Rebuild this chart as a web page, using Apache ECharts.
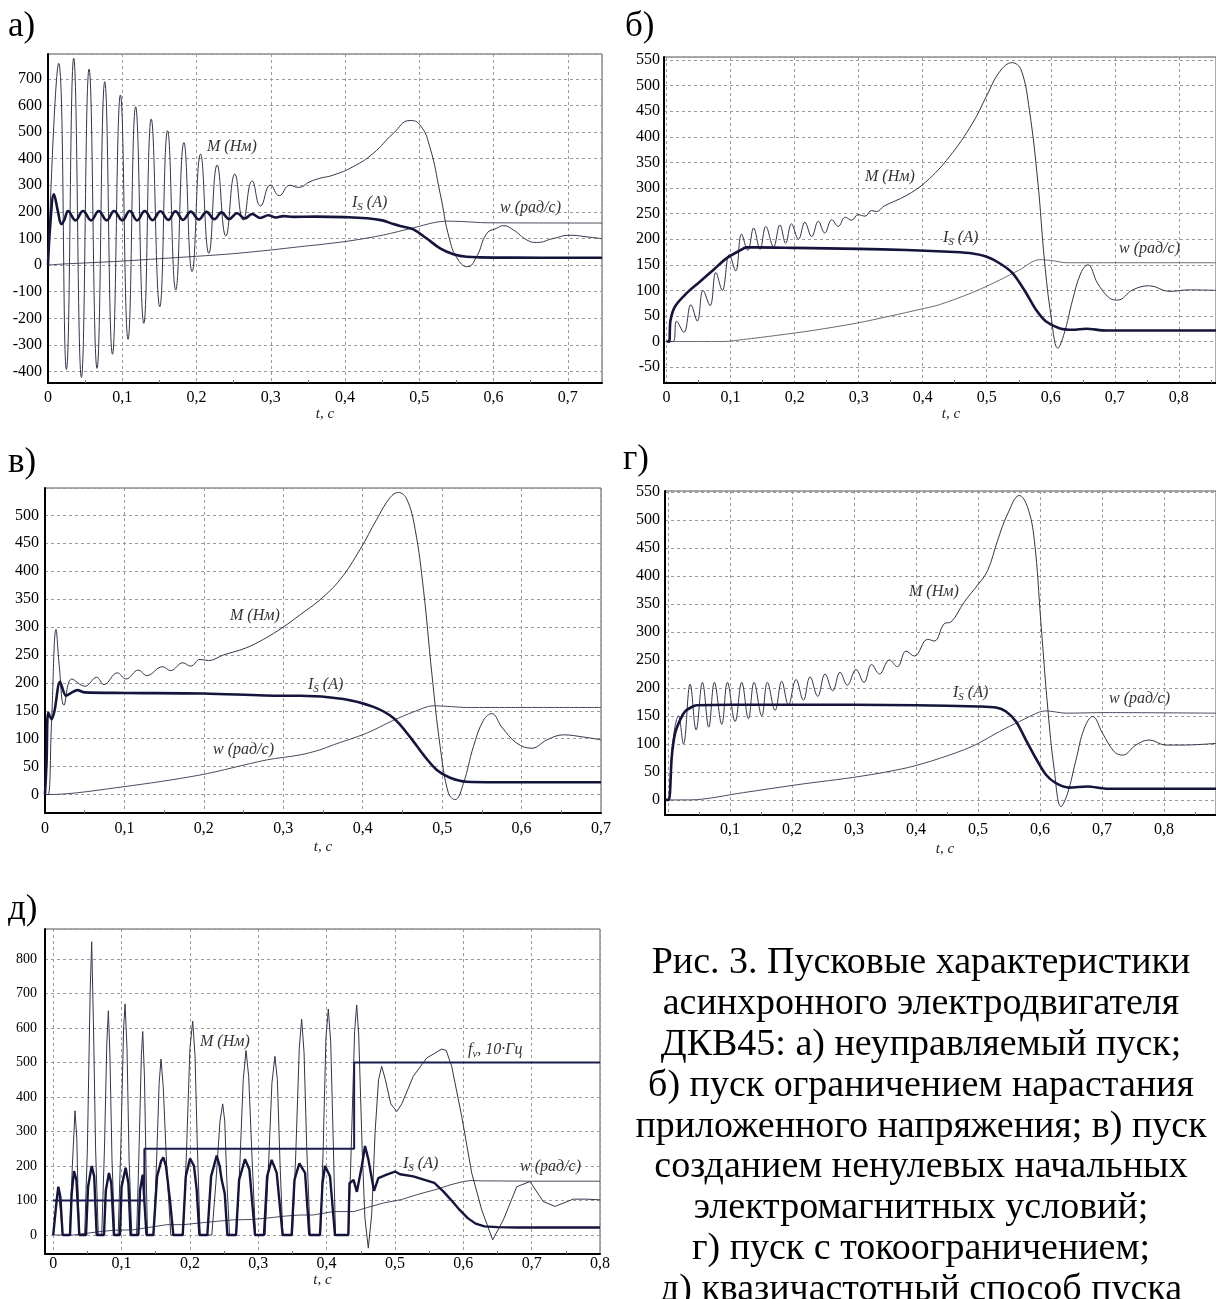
<!DOCTYPE html>
<html><head><meta charset="utf-8">
<script src="https://cdn.jsdelivr.net/npm/echarts@6/dist/echarts.min.js"></script>
<style>html,body{margin:0;padding:0;background:#fff}#c{width:1216px;height:1299px}</style>
</head><body><div id="c"></div>
<script>
// ---------- DATA: [t (s), value] ----------
// Panel а) неуправляемый пуск
const mA=[[0,0],[0.0144,758],[0.0248,-392],[0.0346,777],[0.045,-422],[0.0553,736],[0.066,-388],[0.0764,689],[0.0868,-335],[0.0975,639],[0.1078,-279],[0.118,595],[0.129,-219],[0.139,549],[0.1505,-157],[0.161,505],[0.172,-94],[0.183,460],[0.194,-25],[0.2054,417],[0.2166,44],[0.2278,376],[0.2395,109],[0.2516,342],[0.2628,169],[0.275,316],[0.2862,222],[0.2997,301],[0.3113,261],[0.3257,300],[0.337,292],[0.3527,313],[0.366,326],[0.384,338],[0.411,370],[0.438,420],[0.465,495],[0.4875,543],[0.501,526],[0.514,445],[0.528,270],[0.541,94],[0.5525,19],[0.565,-6],[0.577,31],[0.591,119],[0.604,138],[0.613,148],[0.6267,132],[0.645,94],[0.658,85],[0.6806,100],[0.703,112],[0.7256,106],[0.746,99]];
const isA=[[0,0],[0.003,150],[0.008,266],[0.0135,200],[0.018,154],[0.022,170],[0.027,203],[0.037,168],[0.0472,203],[0.058,168],[0.0683,203],[0.079,168],[0.089,203],[0.1,168],[0.1101,203],[0.12,168],[0.1303,203],[0.141,169],[0.1514,202],[0.162,170],[0.1716,202],[0.182,170],[0.1923,201],[0.203,171],[0.2134,200],[0.224,172],[0.2336,198],[0.244,173],[0.2547,195],[0.265,175],[0.2749,192],[0.286,177],[0.2965,187],[0.307,179],[0.317,184],[0.33,181],[0.36,182],[0.4,180],[0.429,176],[0.45,168],[0.465,154],[0.48,143],[0.492,134],[0.51,100],[0.528,63],[0.546,41],[0.564,31],[0.582,29],[0.627,28],[0.746,27.5]];
const wA=[[0,0],[0.02,4],[0.05,8],[0.1,15],[0.15,24],[0.2,33],[0.25,43],[0.301,57],[0.339,69],[0.366,77],[0.4066,91],[0.4515,113],[0.492,140],[0.519,159],[0.537,165],[0.555,164],[0.591,159],[0.746,158]];
// Panel б) ограничение нарастания напряжения
const mB=[[0,0],[0.0104,0],[0.0156,40],[0.027,18],[0.038,72],[0.048,40],[0.057,100],[0.068,70],[0.077,135],[0.087,100],[0.098,170],[0.108,138],[0.117,210],[0.127,178],[0.136,222],[0.146,180],[0.155,225],[0.167,185],[0.177,228],[0.186,192],[0.195,230],[0.206,200],[0.216,233],[0.2266,205],[0.237,235],[0.247,212],[0.258,238],[0.268,225],[0.279,243],[0.289,237],[0.299,248],[0.31,245],[0.32,256],[0.328,254],[0.34,265],[0.374,285],[0.405,312],[0.4416,361],[0.478,427],[0.499,478],[0.52,527],[0.5395,545],[0.5536,531],[0.5666,452],[0.58,309],[0.59,160],[0.6005,49],[0.611,-13],[0.621,16],[0.634,81],[0.647,134],[0.658,150],[0.673,114],[0.6916,85],[0.7047,81],[0.728,101],[0.754,109],[0.785,98],[0.8166,101],[0.858,100]];
const isB=[[0,0],[0.004,0],[0.006,40],[0.013,68],[0.031,94],[0.052,117],[0.073,140],[0.094,163],[0.1146,178],[0.125,184],[0.14,184],[0.2,183],[0.3,181],[0.374,179],[0.45,175],[0.478,172],[0.499,166],[0.52,153],[0.54,134],[0.5614,95],[0.577,62],[0.5927,39],[0.6134,26],[0.634,23],[0.655,25],[0.6864,21.6],[0.858,21.6]];
const wB=[[0,0],[0.088,0],[0.12,4],[0.172,12],[0.23,22],[0.297,36],[0.35,50],[0.396,63],[0.426,72],[0.478,96],[0.52,120],[0.551,140],[0.582,160],[0.603,158],[0.624,154],[0.858,154]];
// Panel в) ненулевые начальные условия
const mV=[[0,0],[0.004,0],[0.008,120],[0.0139,296],[0.018,230],[0.0239,160],[0.0336,207],[0.0504,194],[0.065,210],[0.0743,197],[0.091,218],[0.102,207],[0.1176,223],[0.128,213],[0.148,229],[0.1582,222],[0.1734,236],[0.1834,230],[0.1952,242],[0.206,240],[0.2246,250],[0.2519,262],[0.275,278],[0.3,300],[0.3212,322],[0.3463,349],[0.3715,385],[0.3967,439],[0.4177,493],[0.4345,532],[0.445,541],[0.4555,529],[0.466,475],[0.4765,367],[0.487,217],[0.4975,86],[0.508,2],[0.5164,-9],[0.5268,20],[0.5394,86],[0.552,133],[0.5626,145],[0.575,121],[0.594,92],[0.613,83],[0.632,98],[0.6528,107],[0.678,103],[0.7,98]];
const isV=[[0,0],[0.002,60],[0.004,147],[0.0084,135],[0.012,150],[0.0189,202],[0.0265,177],[0.033,182],[0.0407,187],[0.05,183],[0.1,182],[0.2,181],[0.3,177],[0.3212,177],[0.3757,171],[0.4135,157],[0.4387,137],[0.4597,103],[0.4765,71],[0.4933,44],[0.51,30],[0.5311,23],[0.594,22],[0.7,22]];
const wV=[[0,0],[0.005,0],[0.0986,14],[0.195,35],[0.279,62],[0.321,71],[0.346,80],[0.363,89],[0.405,110],[0.4387,133],[0.4639,148],[0.489,159],[0.506,158],[0.531,156],[0.7,156]];
// Panel г) токоограничение
const mG=[[-0.005,0],[0.0005,0],[0.0027,24],[0.008,107],[0.0167,150],[0.0247,100],[0.0355,207],[0.0452,125],[0.0554,210],[0.0656,130],[0.0747,210],[0.0866,135],[0.0957,210],[0.1081,140],[0.1188,210],[0.1296,145],[0.1387,210],[0.1511,150],[0.1602,210],[0.1726,160],[0.1833,212],[0.1941,170],[0.2065,215],[0.2183,178],[0.229,220],[0.2414,185],[0.2532,225],[0.2656,195],[0.2774,228],[0.2892,205],[0.3032,233],[0.316,210],[0.3285,242],[0.3409,225],[0.357,250],[0.3699,238],[0.384,266],[0.3973,257],[0.4188,287],[0.4296,284],[0.4457,315],[0.4565,318],[0.478,354],[0.4995,384],[0.5156,410],[0.5317,464],[0.5478,511],[0.5667,544],[0.58,523],[0.5909,464],[0.6016,315],[0.6124,166],[0.623,54],[0.634,-12],[0.6446,12],[0.658,71],[0.6715,128],[0.685,149],[0.701,119],[0.7199,86],[0.7333,80],[0.7548,98],[0.7763,107],[0.803,98],[0.83,98],[0.884,101]];
const isG=[[-0.005,0],[0.001,0],[0.0059,77],[0.0113,119],[0.0194,143],[0.0274,158],[0.0382,166],[0.0462,169],[0.1,170],[0.2,170],[0.3,170],[0.4,169],[0.5,167],[0.529,165],[0.5452,158],[0.5613,140],[0.5774,107],[0.5935,74],[0.6097,45],[0.6258,30],[0.6473,22],[0.677,24],[0.7065,20],[0.884,20]];
const wG=[[-0.005,0],[0.0355,0],[0.1215,13],[0.2075,27],[0.3097,42],[0.384,57],[0.4376,74],[0.4914,96],[0.5344,122],[0.5667,140],[0.599,157],[0.6097,159],[0.642,155],[0.7065,156],[0.884,155]];
// Panel д) квазичастотный пуск
const mD=[[0,0],[0.003,60],[0.0075,135],[0.011,60],[0.0138,0],[0.024,0],[0.028,200],[0.0319,360],[0.0345,280],[0.036,150],[0.0385,0],[0.046,0],[0.05,250],[0.054,700],[0.0563,850],[0.059,600],[0.062,250],[0.066,0],[0.071,0],[0.075,250],[0.0785,560],[0.0807,650],[0.083,520],[0.086,220],[0.09,0],[0.095,0],[0.099,260],[0.103,600],[0.1052,670],[0.108,540],[0.111,220],[0.115,0],[0.122,0],[0.125,200],[0.129,520],[0.131,590],[0.1335,460],[0.136,180],[0.138,0],[0.147,0],[0.151,200],[0.155,440],[0.1577,510],[0.161,430],[0.166,200],[0.172,0],[0.19,0],[0.195,240],[0.2,540],[0.2041,620],[0.2075,520],[0.211,250],[0.215,0],[0.232,0],[0.238,150],[0.244,330],[0.248,380],[0.251,330],[0.254,160],[0.258,0],[0.268,0],[0.273,200],[0.278,450],[0.2821,535],[0.286,460],[0.291,220],[0.296,0],[0.31,0],[0.315,200],[0.32,440],[0.3244,518],[0.328,450],[0.332,200],[0.336,0],[0.35,0],[0.355,240],[0.36,540],[0.3635,626],[0.367,530],[0.371,250],[0.376,0],[0.391,0],[0.395,250],[0.399,570],[0.4025,655],[0.406,560],[0.41,250],[0.413,0],[0.432,0],[0.436,250],[0.441,590],[0.444,667],[0.447,580],[0.452,250],[0.456,50],[0.461,-38],[0.466,60],[0.471,300],[0.476,450],[0.4806,489],[0.486,450],[0.494,380],[0.5026,358],[0.51,380],[0.5268,460],[0.5464,513],[0.5684,539],[0.575,535],[0.583,489],[0.5977,344],[0.6123,180],[0.6269,73],[0.643,-14],[0.6586,44],[0.6782,140],[0.6976,155],[0.717,97],[0.7342,83],[0.761,104],[0.78,104],[0.8,102]];
const isD=[[0,0],[0.0026,0],[0.005,100],[0.0075,140],[0.0105,110],[0.0138,0],[0.0246,0],[0.027,120],[0.0304,185],[0.034,160],[0.0382,0],[0.048,0],[0.051,140],[0.0563,200],[0.06,170],[0.0636,0],[0.0743,0],[0.077,130],[0.0816,180],[0.085,150],[0.0889,0],[0.0977,0],[0.1,140],[0.106,195],[0.11,150],[0.1133,0],[0.1246,0],[0.127,130],[0.131,175],[0.1335,170],[0.1365,0],[0.1465,0],[0.152,170],[0.158,215],[0.1611,225],[0.165,200],[0.1709,100],[0.1758,0],[0.1895,0],[0.194,170],[0.2002,222],[0.206,200],[0.21,130],[0.2139,0],[0.2255,0],[0.231,170],[0.2392,230],[0.2435,200],[0.2465,160],[0.251,120],[0.2548,0],[0.2675,0],[0.272,160],[0.2806,220],[0.287,190],[0.2953,0],[0.3084,0],[0.313,170],[0.3196,218],[0.327,180],[0.3357,0],[0.3489,0],[0.353,160],[0.3601,208],[0.3685,180],[0.3747,0],[0.3903,0],[0.394,150],[0.3977,200],[0.405,170],[0.4123,0],[0.4318,0],[0.4335,150],[0.4394,160],[0.4443,125],[0.4515,200],[0.4562,258],[0.461,220],[0.4694,128],[0.4757,165],[0.4879,175],[0.5001,184],[0.5074,176],[0.5268,170],[0.5576,151],[0.57,128],[0.582,102],[0.595,72],[0.6065,49],[0.618,33],[0.631,25],[0.65,23],[0.68,22],[0.8,22]];
const wD=[[0,0],[0.0294,0],[0.045,4],[0.0685,10],[0.09,14],[0.117,15],[0.14,22],[0.166,30],[0.19,30],[0.2148,35],[0.24,40],[0.2636,44],[0.29,45],[0.3123,49],[0.34,55],[0.3611,58],[0.38,58],[0.41,68],[0.44,68],[0.46,80],[0.4835,93],[0.51,103],[0.532,117],[0.56,132],[0.582,146],[0.6,155],[0.611,158],[0.626,157],[0.7,156],[0.8,156]];
const fD=[[0,100],[0.1334,100],[0.1334,250],[0.4403,250],[0.4403,500],[0.8,500]];

// axis ranges / steps
const xRanges=[[0,0.746],[-0.004,0.858],[0,0.7],[-0.005,0.884],[-0.012,0.8]];
const yRanges=[[-443,793],[-81,556],[-33,549],[-27,552],[-55,887]];
const yStep=[100,50,50,50,100];
const xStep=0.1;

const captionLines=['Рис. 3. Пусковые характеристики','асинхронного электродвигателя','ДКВ45: а) неуправляемый пуск;','б) пуск ограничением нарастания','приложенного напряжения; в) пуск','созданием ненулевых начальных','электромагнитных условий;','г) пуск с токоограничением;','д) квазичастотный способ пуска'];
const panelLetters=['а)','б)','в)','г)','д)'];

// ---------- CHART ----------
const FONT='"Liberation Serif","Times New Roman",serif';
const C_M='#34344a', C_I='#14143c', C_W='#4a4a5e', C_F='#1c1c50';

const gridRects=[
  {left:48,top:54,width:554,height:329},
  {left:664,top:57,width:552,height:326},
  {left:45,top:488,width:556,height:325},
  {left:665,top:491,width:551,height:324},
  {left:45,top:929,width:555,height:325}
];
const xOpts=[
  {margin:7,nameGap:24,showMin:true,showMax:false,pad:[0,0,0,0],hideZero:false},
  {margin:7,nameGap:23,showMin:false,showMax:false,pad:[0,0,0,22],hideZero:false},
  {margin:8,nameGap:27,showMin:true,showMax:true,pad:[0,0,0,0],hideZero:false},
  {margin:7,nameGap:27,showMin:false,showMax:false,pad:[0,0,0,9],hideZero:true},
  {margin:2,nameGap:19,showMin:false,showMax:true,pad:[0,0,0,0],hideZero:false}
];
const yMargin=[6,4,6,5,8];
const yFont=[16,16,16,16,14];

function fmtX(v,hideZero){
  const r=Math.round(v*100)/100;
  if(r===0) return hideZero?'':'0';
  return String(r).replace('.',',');
}
const grid=gridRects.map(g=>Object.assign({show:true,borderColor:'#555',borderWidth:1,backgroundColor:'#fff',containLabel:false,outerBoundsMode:'none'},g));
const xAxis=xRanges.map((r,i)=>({
  type:'value',gridIndex:i,min:r[0],max:r[1],minInterval:xStep,maxInterval:xStep,
  axisLine:{onZero:false,lineStyle:{color:'#000',width:2}},
  axisTick:{show:false,inside:true},
  minorTick:{show:true,splitNumber:2,length:3,lineStyle:{color:'#777'}},
  splitLine:{show:true,lineStyle:{color:'#9a9a9a',type:[3,3],width:1}},
  axisLabel:{color:'#000',fontFamily:FONT,fontSize:16,margin:xOpts[i].margin,showMinLabel:xOpts[i].showMin,showMaxLabel:xOpts[i].showMax,
    formatter:(v)=>fmtX(v,xOpts[i].hideZero)},
  name:'t, c',nameLocation:'middle',nameGap:xOpts[i].nameGap,
  nameTextStyle:{fontFamily:FONT,fontStyle:'italic',fontSize:15,color:'#222',padding:xOpts[i].pad}
}));
const yAxis=yRanges.map((r,i)=>({
  type:'value',gridIndex:i,min:r[0],max:r[1],minInterval:yStep[i],maxInterval:yStep[i],
  axisLine:{onZero:false,lineStyle:{color:'#000',width:2}},
  axisTick:{show:false},
  splitLine:{show:true,lineStyle:{color:'#9a9a9a',type:[3,3],width:1}},
  axisLabel:{color:'#000',fontFamily:FONT,fontSize:yFont[i],margin:yMargin[i],showMinLabel:false,showMaxLabel:false,
    formatter:(v)=>String(Math.round(v))}
}));
function ser(i,name,data,color,width,smooth,z){
  return {type:'line',name,xAxisIndex:i,yAxisIndex:i,data,showSymbol:false,symbol:'none',
    smooth,lineStyle:{color,width},z,silent:true};
}
const series=[
  ser(0,'w',wA,C_W,1,0.3,2),ser(0,'M',mA,C_M,1,0.5,3),ser(0,'Is',isA,C_I,2.6,0.4,4),
  ser(1,'w',wB,'#6a6a78',1,0.3,2),ser(1,'M',mB,C_M,1,0.4,3),ser(1,'Is',isB,C_I,2.6,0.3,4),
  ser(2,'w',wV,C_W,1,0.3,2),ser(2,'M',mV,C_M,1,0.4,3),ser(2,'Is',isV,C_I,2.6,0.3,4),
  ser(3,'w',wG,C_W,1,0.3,2),ser(3,'M',mG,C_M,1,0.4,3),ser(3,'Is',isG,C_I,2.6,0.3,4),
  ser(4,'w',wD,C_W,1,false,2),ser(4,'M',mD,C_M,1,false,3),ser(4,'Is',isD,C_I,2.4,false,4),ser(4,'fv',fD,C_F,2,false,5)
];

// text annotations
const lbl={fontFamily:FONT,fontStyle:'italic',fontSize:16,fill:'#333'};
function plain(x,y,text){return {type:'text',x,y,z:100,style:Object.assign({text,align:'left',verticalAlign:'middle'},lbl)};}
function sub(x,y,main,s,rest){
  return {type:'text',x,y,z:100,style:{text:'{a|'+main+'}{b|'+s+'}{a|'+rest+'}',align:'left',verticalAlign:'middle',
    rich:{a:{fontFamily:FONT,fontStyle:'italic',fontSize:16,lineHeight:19,fill:'#333',verticalAlign:'middle'},
          b:{fontFamily:FONT,fontStyle:'italic',fontSize:11,lineHeight:12,fill:'#333',verticalAlign:'bottom'}}}};
}
const graphic=[
  plain(207,147,'M (Нм)'),sub(352,203,'I','S',' (A)'),plain(500,208,'w (рад/с)'),
  plain(865,177,'M (Нм)'),sub(943,238,'I','S',' (A)'),plain(1119,249,'w (рад/с)'),
  plain(230,616,'M (Нм)'),sub(308,685,'I','S',' (A)'),plain(213,750,'w (рад/с)'),
  plain(909,592,'M (Нм)'),sub(953,693,'I','S',' (A)'),plain(1109,699,'w (рад/с)'),
  plain(200,1042,'M (Нм)'),sub(468,1050,'f','v',', 10·Гц'),sub(403,1164,'I','S',' (A)'),plain(520,1167,'w (рад/с)')
];
const letterPos=[[8,27],[625,27],[8,463],[623,460],[8,910]];
panelLetters.forEach((t,i)=>graphic.push({type:'text',x:letterPos[i][0],y:letterPos[i][1],z:100,
  style:{text:t,fontFamily:FONT,fontSize:35,fill:'#000',align:'left',verticalAlign:'middle'}}));
captionLines.forEach((t,i)=>graphic.push({type:'text',x:921,y:963+40.9*i,z:100,
  style:{text:t,fontFamily:FONT,fontSize:38,fill:'#000',align:'center',verticalAlign:'middle'}}));

const chart=echarts.init(document.getElementById('c'),null,{renderer:'canvas'});
chart.setOption({animation:false,backgroundColor:'#fff',grid,xAxis,yAxis,series,graphic});
</script></body></html>
